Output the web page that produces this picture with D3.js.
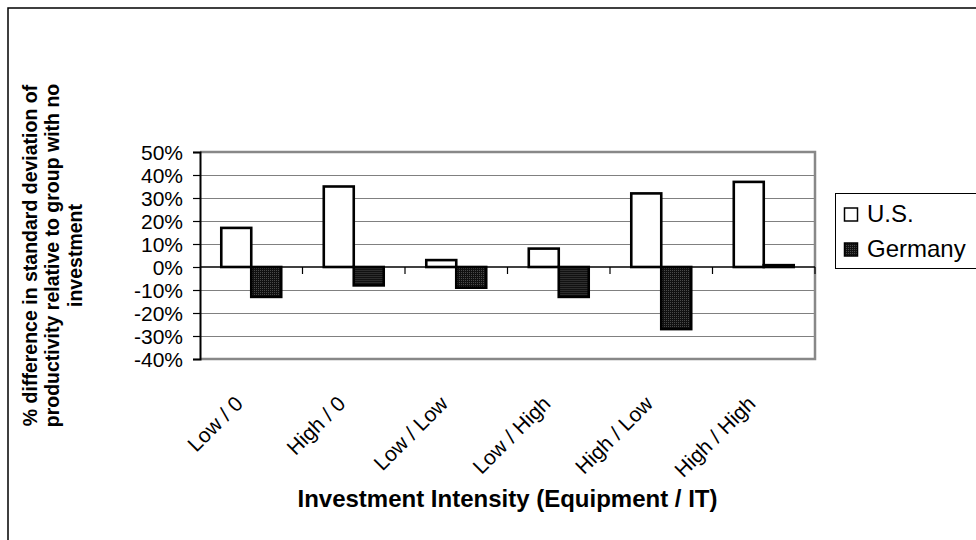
<!DOCTYPE html>
<html>
<head>
<meta charset="utf-8">
<script src="https://cdn.jsdelivr.net/npm/d3@7"></script>
<style>
  html, body { margin: 0; padding: 0; background: #fff; }
  svg { display: block; font-family: "Liberation Sans", Arial, sans-serif; }
</style>
</head>
<body>
<svg id="chart" width="976" height="540"></svg>
<script>
const categories = ["Low / 0", "High / 0", "Low / Low", "Low / High", "High / Low", "High / High"];
const seriesNames = ["U.S.", "Germany"];
const usValues = [0.17, 0.35, 0.03, 0.08, 0.32, 0.37];
const germanyValues = [-0.13, -0.08, -0.09, -0.13, -0.27, 0.008];
const yTicks = [-0.4, -0.3, -0.2, -0.1, 0, 0.1, 0.2, 0.3, 0.4, 0.5];
const yTitleLines = ["% difference in standard deviation of", "productivity relative to group with no", "investment"];
const xTitle = "Investment Intensity (Equipment / IT)";

const FONT = "'Liberation Sans', Arial, sans-serif";
const svg = d3.select("#chart");
const W = 976, H = 540;
const plot = { left: 200, right: 815, top: 152, bottom: 359 };

// patterns
const defs = svg.append("defs");
const pat = defs.append("pattern").attr("id", "darkdots")
  .attr("width", 2).attr("height", 2).attr("patternUnits", "userSpaceOnUse");
pat.append("rect").attr("width", 2).attr("height", 2).attr("fill", "#111");
pat.append("rect").attr("x", 0).attr("y", 0).attr("width", 1).attr("height", 1).attr("fill", "#4a4a4a");

// outer frame
svg.append("rect").attr("x", 8).attr("y", 8).attr("width", W + 10).attr("height", H + 10)
  .attr("fill", "none").attr("stroke", "#000").attr("stroke-width", 1.5);

const x0 = d3.scaleBand().domain(categories).range([plot.left, plot.right]).paddingInner(0).paddingOuter(0);
const x1 = d3.scaleBand().domain(seriesNames).range([0, x0.bandwidth()]).paddingInner(0).paddingOuter(0.71);
const y = d3.scaleLinear().domain([-0.4, 0.5]).range([plot.bottom, plot.top]);

// gridlines
svg.append("g").selectAll("line").data(yTicks.filter(t => t !== 0 && t !== -0.4 && t !== 0.5)).join("line")
  .attr("x1", plot.left).attr("x2", plot.right)
  .attr("y1", d => Math.round(y(d)) + 0.5).attr("y2", d => Math.round(y(d)) + 0.5)
  .attr("stroke", "#808080").attr("stroke-width", 1);

// plot border (top, right, bottom) gray
svg.append("path")
  .attr("d", `M${plot.left},${plot.top}H${plot.right}V${plot.bottom}H${plot.left}`)
  .attr("fill", "none").attr("stroke", "#888").attr("stroke-width", 2.5);

// y axis
const pct = d => (Math.round(d * 100)) + "%";
const yAxis = d3.axisLeft(y).tickValues(yTicks).tickFormat(pct).tickSizeOuter(0).tickSize(7).tickPadding(10);
const gy = svg.append("g").attr("transform", `translate(${plot.left},0)`).call(yAxis);
gy.select(".domain").attr("stroke", "#000").attr("stroke-width", 2);
gy.selectAll(".tick line").attr("stroke", "#000").attr("stroke-width", 1.2);
gy.selectAll(".tick text").attr("font-size", 21).attr("fill", "#000")
  .attr("font-family", FONT).attr("dy", "0.35em");

// bars
const data = categories.map((c, i) => ({ cat: c, values: [usValues[i], germanyValues[i]] }));
const groups = svg.append("g").selectAll("g").data(data).join("g")
  .attr("transform", d => `translate(${x0(d.cat)},0)`);
groups.selectAll("rect").data(d => d.values.map((v, j) => ({ s: seriesNames[j], v }))).join("rect")
  .attr("x", d => x1(d.s))
  .attr("width", x1.bandwidth())
  .attr("y", d => y(Math.max(0, d.v)))
  .attr("height", d => Math.abs(y(d.v) - y(0)))
  .attr("fill", d => d.s === "U.S." ? "#fff" : "url(#darkdots)")
  .attr("stroke", "#000").attr("stroke-width", 2.6);

// zero axis line with category ticks
const y0 = y(0);
svg.append("line").attr("x1", plot.left).attr("x2", plot.right).attr("y1", y0).attr("y2", y0)
  .attr("stroke", "#000").attr("stroke-width", 1.5);
const boundaries = categories.slice(1).map(c => x0(c)).concat([plot.right]);
svg.append("g").selectAll("line").data(boundaries).join("line")
  .attr("x1", d => d).attr("x2", d => d).attr("y1", y0).attr("y2", y0 + 7)
  .attr("stroke", "#000").attr("stroke-width", 1.2);

// x category labels rotated
svg.append("g").selectAll("text").data(categories).join("text")
  .attr("transform", d => `translate(${x0(d) + x0.bandwidth() / 2 - 7},${plot.bottom + 46}) rotate(-45)`)
  .attr("text-anchor", "end")
  .attr("font-size", 21).attr("fill", "#000")
  .text(d => d);

// x title
svg.append("text").attr("x", (plot.left + plot.right) / 2).attr("y", 507)
  .attr("text-anchor", "middle").attr("font-size", 24).attr("font-weight", "bold")
  .text(xTitle);

// y title
const yt = svg.append("text").attr("transform", `translate(52,${(plot.top + plot.bottom) / 2}) rotate(-90)`)
  .attr("text-anchor", "middle").attr("font-size", 19.5).attr("font-weight", "bold");
yTitleLines.forEach((l, i) => {
  yt.append("tspan").attr("x", 0).attr("y", (i - 1) * 22.5 + 7).text(l);
});

// legend
const lg = svg.append("g").attr("transform", "translate(835,193)");
lg.append("rect").attr("x", 0.5).attr("y", 0.5).attr("width", 160).attr("height", 75)
  .attr("fill", "#fff").attr("stroke", "#000").attr("stroke-width", 1);
seriesNames.forEach((s, i) => {
  const row = lg.append("g").attr("transform", `translate(9,${29 + i * 35})`);
  row.append("rect").attr("x", 0.5).attr("y", -14).attr("width", 13).attr("height", 13)
    .attr("fill", i === 0 ? "#fff" : "url(#darkdots)").attr("stroke", "#000").attr("stroke-width", 1.5);
  row.append("text").attr("x", 23).attr("y", 0).attr("font-size", 24).text(s);
});
</script>
</body>
</html>
